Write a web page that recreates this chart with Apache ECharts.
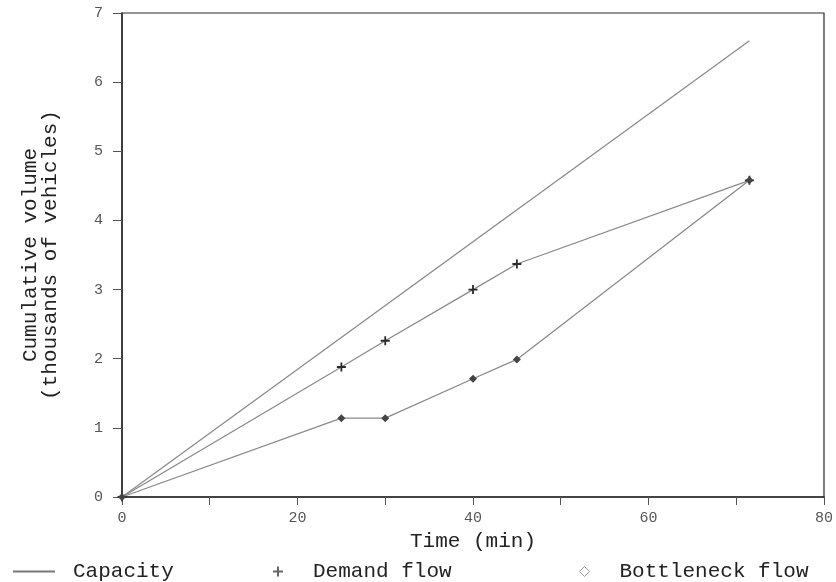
<!DOCTYPE html>
<html>
<head>
<meta charset="utf-8">
<script src="https://cdn.jsdelivr.net/npm/echarts@6/dist/echarts.min.js"></script>
<style>
html,body{margin:0;padding:0;background:#fff;}
#chart{width:836px;height:582px;}
</style>
</head>
<body>
<div id="chart"></div>
<script>
// ---- data ----
var seriesNames = ['Capacity', 'Demand flow', 'Bottleneck flow'];
var capacityTime = [0, 71.5];
var capacityVolume = [0, 6.6];
var demandTime = [0, 25, 30, 40, 45, 71.5];
var demandVolume = [0, 1.88, 2.26, 3.0, 3.37, 4.58];
var bottleneckTime = [0, 25, 30, 40, 45, 71.5];
var bottleneckVolume = [0, 1.14, 1.14, 1.71, 1.99, 4.58];
var xTickValues = [0, 20, 40, 60, 80];
var yTickValues = [0, 1, 2, 3, 4, 5, 6, 7];
var xTitle = 'Time (min)';
var yTitle = 'Cumulative volume\n(thousands of vehicles)';

function pairs(xs, ys) { return xs.map(function (x, i) { return [x, ys[i]]; }); }

var FONT = "'Liberation Mono', 'DejaVu Sans Mono', monospace";
var LINE = '#8a8a8a';
var DARK = '#2a2a2a';
var plusPath = 'path://M4,0 L6,0 L6,4 L10,4 L10,6 L6,6 L6,10 L4,10 L4,6 L0,6 L0,4 L4,4 Z';

var chart = echarts.init(document.getElementById('chart'), null, {renderer: 'canvas'});
chart.setOption({
  animation: false,
  backgroundColor: '#ffffff',
  grid: {left: 122, right: 10, top: 13, bottom: 85, show: true, borderColor: DARK, borderWidth: 1.2, backgroundColor: 'transparent'},
  xAxis: {
    type: 'value', min: xTickValues[0], max: xTickValues[xTickValues.length - 1], interval: 20,
    name: xTitle, nameLocation: 'middle', nameGap: 34,
    nameTextStyle: {fontFamily: FONT, fontSize: 21, color: '#222'},
    axisLine: {show: true, lineStyle: {color: DARK, width: 1.5}},
    axisTick: {show: true, inside: false, length: 8, lineStyle: {color: '#555'}},
    minorTick: {show: true, splitNumber: 2, length: 8, lineStyle: {color: '#555'}},
    axisLabel: {fontFamily: FONT, fontSize: 15, color: '#555', margin: 14},
    splitLine: {show: false}
  },
  yAxis: {
    type: 'value', min: yTickValues[0], max: yTickValues[yTickValues.length - 1], interval: 1,
    name: yTitle, nameLocation: 'middle', nameGap: 62,
    nameTextStyle: {fontFamily: FONT, fontSize: 21, color: '#222', lineHeight: 20},
    axisLine: {show: true, lineStyle: {color: DARK, width: 1.5}},
    axisTick: {show: true, inside: false, length: 9, lineStyle: {color: '#555'}},
    axisLabel: {fontFamily: FONT, fontSize: 15, color: '#555', margin: 19},
    splitLine: {show: false}
  },
  legend: [
    {left: 8, top: 556, itemWidth: 42, itemHeight: 2, data: [{name: seriesNames[0], icon: 'rect'}],
     textStyle: {fontFamily: FONT, fontSize: 21, color: '#222', padding: [0, 0, 0, 13]}},
    {left: 268, top: 556, itemWidth: 10, itemHeight: 10, data: [{name: seriesNames[1], icon: plusPath, itemStyle: {color: '#666'}}],
     textStyle: {fontFamily: FONT, fontSize: 21, color: '#222', padding: [0, 0, 0, 25]}},
    {left: 574, top: 556, itemWidth: 10, itemHeight: 10, data: [{name: seriesNames[2], icon: 'diamond', itemStyle: {color: '#ffffff', borderColor: '#999', borderWidth: 1}}],
     textStyle: {fontFamily: FONT, fontSize: 21, color: '#222', padding: [0, 0, 0, 25]}}
  ],
  series: [
    {name: seriesNames[0], type: 'line', data: pairs(capacityTime, capacityVolume), showSymbol: false,
     lineStyle: {color: LINE, width: 1.3}, itemStyle: {color: '#777'}},
    {name: seriesNames[1], type: 'line', data: pairs(demandTime, demandVolume), symbol: plusPath, symbolSize: 9,
     lineStyle: {color: LINE, width: 1.3}, itemStyle: {color: DARK}},
    {name: seriesNames[2], type: 'line', data: pairs(bottleneckTime, bottleneckVolume), symbol: 'diamond', symbolSize: 8,
     lineStyle: {color: LINE, width: 1.3}, itemStyle: {color: '#444'}}
  ]
});
</script>
</body>
</html>
